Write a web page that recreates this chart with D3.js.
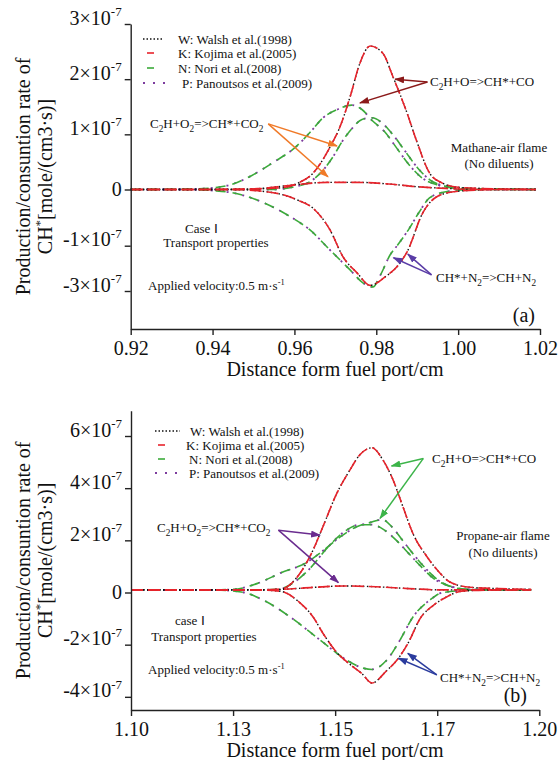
<!DOCTYPE html>
<html><head><meta charset="utf-8">
<script src="https://cdn.jsdelivr.net/npm/d3@7"></script>
<style>
html,body{margin:0;padding:0;background:#fff;}
svg{display:block;font-family:"Liberation Serif","Times New Roman",serif;}
svg text{font-family:"Liberation Serif","Times New Roman",serif;}
</style></head><body>
<svg id="chart" width="559" height="760"></svg>
<script>
/* CH* production / consumption rates, two flames (values in units of 1e-7 mole/(cm3·s)) */
var xTicksA = [0.92, 0.94, 0.96, 0.98, 1.00, 1.02];
var xLabelsA = ['0.92', '0.94', '0.96', '0.98', '1.00', '1.02'];
var yTicksA = [3, 2, 1, 0, -1, -3];
var xTicksB = [1.10, 1.125, 1.15, 1.175, 1.20];
var xLabelsB = ['1.10', '1.13', '1.15', '1.17', '1.20'];
var yTicksB = [6, 4, 2, 0, -2, -4];
var legendNames = ['W: Walsh et al.(1998)', 'K: Kojima et al.(2005)', 'N: Nori et al.(2008)', 'P: Panoutsos et al.(2009)'];

// (a) methane-air : [distance cm, rate]
var a_WK_CO = [[0.92,0],[0.94,0],[0.95,0.01],[0.9565,0.03],[0.961,0.12],[0.9646,0.3],[0.9687,0.77],[0.9711,1.13],[0.9736,1.68],[0.976,2.29],[0.9785,2.6],[0.9816,2.47],[0.9841,2.04],[0.9875,1.39],[0.990,0.85],[0.993,0.3],[0.996,0.12],[1.0,0.04],[1.01,0.01],[1.019,0]];
var a_WK_CO2 = [[0.92,0],[0.945,0],[0.952,0.02],[0.957,0.06],[0.962,0.1],[0.968,0.13],[0.975,0.13],[0.983,0.1],[0.99,0.05],[0.997,0.02],[1.005,0],[1.019,0]];
var a_WK_N2 = [[0.92,0],[0.945,0],[0.952,-0.03],[0.9565,-0.08],[0.9605,-0.18],[0.9645,-0.33],[0.9687,-0.72],[0.9719,-1.5],[0.9753,-2.2],[0.9785,-2.75],[0.982,-2.4],[0.9858,-1.76],[0.9875,-1.28],[0.9914,-0.41],[0.995,-0.12],[1.0,-0.03],[1.01,0],[1.019,0]];
var a_NP_CO = [[0.92,0],[0.935,0.01],[0.94,0.03],[0.945,0.1],[0.9495,0.25],[0.955,0.5],[0.96,0.75],[0.964,1.05],[0.967,1.3],[0.9705,1.45],[0.974,1.53],[0.9765,1.45],[0.979,1.25],[0.982,1.05],[0.985,0.75],[0.988,0.45],[0.991,0.22],[0.995,0.08],[1.0,0.02],[1.01,0.01],[1.019,0]];
var a_NP_CO2 = [[0.92,0],[0.955,0],[0.96,0.05],[0.964,0.15],[0.967,0.35],[0.9695,0.6],[0.9715,0.85],[0.974,1.1],[0.9765,1.27],[0.979,1.3],[0.9815,1.2],[0.984,1.0],[0.987,0.7],[0.99,0.4],[0.993,0.18],[0.997,0.06],[1.003,0.01],[1.019,0]];
var a_NP_N2 = [[0.92,0],[0.935,0],[0.94,-0.02],[0.9443,-0.05],[0.9523,-0.23],[0.9589,-0.48],[0.9638,-0.72],[0.9687,-1.19],[0.9736,-2.07],[0.9768,-2.65],[0.9792,-2.82],[0.981,-2.3],[0.9834,-1.4],[0.9853,-0.98],[0.988,-0.7],[0.9905,-0.4],[0.993,-0.15],[0.997,-0.04],[1.003,0],[1.019,0]];

// (b) propane-air
var b_WK_CO = [[1.10,0.1],[1.12,0.1],[1.13,0.1],[1.1365,0.12],[1.1414,0.74],[1.1446,1.63],[1.147,2.52],[1.1504,3.8],[1.1536,4.69],[1.156,5.27],[1.159,5.55],[1.1617,5.08],[1.1642,4.31],[1.1666,3.29],[1.169,2.28],[1.1725,1.37],[1.1757,0.74],[1.178,0.41],[1.183,0.2],[1.19,0.15],[1.198,0.12]];
var b_WK_CO2 = [[1.10,0.1],[1.13,0.1],[1.137,0.12],[1.145,0.2],[1.152,0.25],[1.16,0.22],[1.168,0.15],[1.176,0.1],[1.185,0.1],[1.198,0.1]];
var b_WK_N2 = [[1.10,0.1],[1.13,0.1],[1.1365,0.05],[1.1414,-0.4],[1.1446,-0.94],[1.147,-1.56],[1.1504,-2.3],[1.154,-2.8],[1.1565,-3.1],[1.159,-3.47],[1.1626,-3.0],[1.1651,-2.6],[1.168,-1.9],[1.1708,-1.0],[1.174,-0.5],[1.1775,-0.15],[1.181,0.05],[1.19,0.1],[1.198,0.1]];
var b_NP_CO = [[1.10,0.1],[1.12,0.1],[1.125,0.12],[1.131,0.35],[1.1365,0.74],[1.143,1.15],[1.147,1.6],[1.151,2.1],[1.155,2.5],[1.159,2.7],[1.1615,2.8],[1.164,2.5],[1.1665,2.0],[1.169,1.5],[1.172,0.95],[1.175,0.5],[1.178,0.25],[1.183,0.12],[1.19,0.1],[1.198,0.1]];
var b_NP_CO2 = [[1.10,0.1],[1.13,0.1],[1.136,0.12],[1.14,0.4],[1.144,0.95],[1.148,1.7],[1.152,2.3],[1.156,2.6],[1.159,2.6],[1.162,2.4],[1.165,2.0],[1.168,1.5],[1.171,1.0],[1.174,0.55],[1.177,0.3],[1.182,0.12],[1.19,0.1],[1.198,0.1]];
var b_NP_N2 = [[1.10,0.1],[1.12,0.1],[1.127,0.02],[1.1324,-0.29],[1.1389,-0.93],[1.1463,-1.82],[1.1528,-2.59],[1.1569,-2.9],[1.159,-2.95],[1.1626,-2.6],[1.1659,-1.82],[1.1691,-0.93],[1.1732,-0.29],[1.1764,0],[1.185,0.1],[1.198,0.1]];

// annotation anchors in data units: label side point, then arrow tips
var a_annCO = [[0.9925,1.95],[0.9846,2.0],[0.976,1.57]];
var a_annCO2 = [[0.9536,1.19],[0.9704,0.79],[0.9682,0.23]];
var a_annN2 = [[0.9935,-2.29],[0.9842,-1.53],[0.9877,-1.37]];
var b_annCO = [[1.1716,5.14],[1.1638,4.85],[1.161,2.84]];
var b_annCO2 = [[1.1361,2.39],[1.1463,2.2],[1.1508,0.38]];
var b_annN2 = [[1.1749,-3.16],[1.1655,-2.52],[1.1678,-2.33]];

var FONT = '"Liberation Serif","Times New Roman",serif';
var STY = [
  { c: '#111', dash: '1.5,2.5', w: 1.4 },   // W
  { c: '#e8232b', dash: '12,5', w: 1.6 },   // K
  { c: '#3bab3a', dash: '10,7', w: 1.6 },   // N
  { c: '#7d3c9e', dash: '2,6', w: 1.8 }     // P
];

var svg = d3.select('#chart').attr('font-family', FONT);
var defs = svg.append('defs');
function marker(id, col) {
  defs.append('marker').attr('id', id).attr('markerUnits', 'userSpaceOnUse').attr('markerWidth', 10).attr('markerHeight', 8)
    .attr('refX', 9).attr('refY', 3.5).attr('orient', 'auto')
    .append('path').attr('d', 'M0,0 L10,3.5 L0,7 Z').attr('fill', col);
}

// text with _x subscripts and ^{..} superscripts
function rich(t, s, size) {
  var parts = s.split(/(_\{[^}]*\}|\^\{[^}]*\}|_.|\^.)/), cur = 0;
  t.attr('font-family', FONT);
  parts.forEach(function (p) {
    if (!p) return;
    var off = 0, fs = size, txt = p;
    if (p[0] === '_') { off = size * 0.28; fs = size * 0.72; txt = p[1] === '{' ? p.slice(2, -1) : p.slice(1); }
    else if (p[0] === '^') { off = -size * 0.42; fs = size * 0.65; txt = p[1] === '{' ? p.slice(2, -1) : p.slice(1); }
    t.append('tspan').attr('dy', off - cur).attr('font-size', fs).text(txt);
    cur = off;
  });
  return t;
}

function panel(P) {
  var g = svg.append('g');
  var line = d3.line().x(function (d) { return P.x(d[0]); }).y(function (d) { return P.y(d[1]); }).curve(d3.curveMonotoneX);
  // N/P curves first, then W/K on top
  [[3, 2], [0, 1]].forEach(function (pair, gi) {
    var sets = gi === 0 ? P.np : P.wk;
    pair.forEach(function (si) {
      sets.forEach(function (data) {
        g.append('path').attr('d', line(data)).attr('fill', 'none').attr('stroke', STY[si].c)
          .attr('stroke-width', STY[si].w).attr('stroke-dasharray', STY[si].dash);
      });
    });
  });

  // axes
  var ax = g.append('g').attr('transform', 'translate(0,' + P.y.range()[0] + ')')
    .call(d3.axisBottom(P.x).tickValues(P.xt).tickFormat(function (d, i) { return P.xl[i]; })
      .tickSize(6).tickSizeOuter(0).tickPadding(6));
  var ay = g.append('g').attr('transform', 'translate(' + P.x.range()[0] + ',0)')
    .call(d3.axisLeft(P.y).tickValues(P.yt).tickSize(6).tickSizeOuter(0).tickPadding(3));
  [ax, ay].forEach(function (a) {
    a.attr('font-family', FONT).attr('font-size', 20);
    a.select('.domain').attr('stroke', '#222').attr('stroke-width', 1.4);
    a.selectAll('.tick line').attr('stroke', '#222').attr('stroke-width', 1.4);
    a.selectAll('text').attr('font-family', FONT).attr('font-size', 20).attr('fill', '#111');
  });
  ay.selectAll('.tick text').each(function (v) {
    var t = d3.select(this).text('');
    if (v === 0) t.text('0');
    else rich(t, (v < 0 ? '-' : '') + Math.abs(v) + '×10^{-7}', 20);
  });

  // axis titles
  var rg = P.y.range(), ym = (rg[0] + rg[rg.length - 1]) / 2;
  g.append('text').attr('x', 335).attr('y', rg[0] + 47).attr('text-anchor', 'middle').attr('font-size', 20)
    .attr('font-family', FONT).attr('fill', '#111').text('Distance form fuel port/cm');
  g.append('text').attr('transform', 'translate(30,' + ym + ') rotate(-90)').attr('text-anchor', 'middle').attr('font-size', 20)
    .attr('font-family', FONT).attr('fill', '#111').text('Production/consuntion rate of');
  rich(g.append('text').attr('transform', 'translate(52,' + ym + ') rotate(-90)').attr('text-anchor', 'middle').attr('font-size', 20).attr('fill', '#111'),
    'CH^*[mole/(cm3·s)]', 20);

  // legend
  P.leg.rows.forEach(function (ry, i) {
    var s = STY[i], l = P.leg.lines[i];
    g.append('line').attr('x1', l[0]).attr('x2', l[1]).attr('y1', ry).attr('y2', ry).attr('stroke', s.c)
      .attr('stroke-width', s.w).attr('stroke-dasharray', i === 0 ? '1.5,2' : (i === 3 ? '2,8' : null));
    g.append('text').attr('x', P.leg.tx[i]).attr('y', ry + 4.5).attr('font-size', 13).attr('font-family', FONT)
      .attr('fill', '#111').text(legendNames[i]);
  });

  // annotations
  P.ann.forEach(function (an, k) {
    var id = P.id + 'm' + k; marker(id, an.col);
    var o = an.pts[0];
    an.pts.slice(1).forEach(function (tp) {
      g.append('line').attr('x1', P.x(o[0])).attr('y1', P.y(o[1])).attr('x2', P.x(tp[0])).attr('y2', P.y(tp[1]))
        .attr('stroke', an.col).attr('stroke-width', 1.5).attr('marker-end', 'url(#' + id + ')');
    });
    rich(g.append('text').attr('x', an.tx).attr('y', an.ty).attr('font-size', 13).attr('fill', '#111'), an.label, 13);
  });
  P.notes.forEach(function (n) {
    rich(g.append('text').attr('x', n[0]).attr('y', n[1]).attr('text-anchor', n[3] || 'start').attr('font-size', n[4] || 13).attr('fill', '#111'), n[2], n[4] || 13);
  });
}

// scales (a): y axis is piecewise in the original figure
var xA = d3.scaleLinear().domain([0.92, 1.02]).range([130.7, 540]);
var yA = d3.scaleLinear().domain([-3, -1, 0, 3]).range([291, 245.7, 189.5, 24]);
yA.domain([yA.invert(329)].concat(yA.domain())).range([329].concat(yA.range()));
var xB = d3.scaleLinear().domain([1.10, 1.20]).range([131, 539.3]);
var yB = d3.scaleLinear().domain([0, 6]).range([592.5, 436]);
yB.domain([yB.invert(710), yB.invert(410.7)]).range([710, 410.7]);

panel({
  id: 'a', x: xA, y: yA, xt: xTicksA, xl: xLabelsA, yt: yTicksA,
  wk: [a_WK_CO, a_WK_CO2, a_WK_N2], np: [a_NP_CO, a_NP_CO2, a_NP_N2],
  leg: { rows: [39, 53, 68, 83], lines: [[143, 162], [147, 154], [147, 154], [143, 170]], tx: [178, 178, 178, 182] },
  ann: [
    { label: 'C_2H+O=>CH*+CO', col: '#8b1a1a', pts: a_annCO, tx: 430, ty: 86 },
    { label: 'C_2H+O_2=>CH*+CO_2', col: '#f07a28', pts: a_annCO2, tx: 150, ty: 128 },
    { label: 'CH*+N_2=>CH+N_2', col: '#5a3ca6', pts: a_annN2, tx: 436, ty: 282 }
  ],
  notes: [[499, 152, 'Mathane-air flame', 'middle'], [499, 168, '(No diluents)', 'middle'],
    [185, 233, 'Case  Ⅰ'], [216, 247, 'Transport properties', 'middle'],
    [148, 290, 'Applied velocity:0.5 m·s^{-1}'], [535, 322, '(a)', 'end', 20]]
});
panel({
  id: 'b', x: xB, y: yB, xt: xTicksB, xl: xLabelsB, yt: yTicksB,
  wk: [b_WK_CO, b_WK_CO2, b_WK_N2], np: [b_NP_CO, b_NP_CO2, b_NP_N2],
  leg: { rows: [431, 445, 459, 473], lines: [[155, 180], [158, 165], [158, 165], [155, 182]], tx: [190, 186, 189, 189] },
  ann: [
    { label: 'C_2H+O=>CH*+CO', col: '#3cb449', pts: b_annCO, tx: 432, ty: 463 },
    { label: 'C_2H+O_2=>CH*+CO_2', col: '#6a2c8f', pts: b_annCO2, tx: 157, ty: 532 },
    { label: 'CH*+N_2=>CH+N_2', col: '#2b3c9e', pts: b_annN2, tx: 440, ty: 682 }
  ],
  notes: [[503, 540, 'Propane-air flame', 'middle'], [503, 557, '(No diluents)', 'middle'],
    [175, 625, 'case  Ⅰ'], [204, 641, 'Transport properties', 'middle'],
    [148, 674, 'Applied velocity:0.5 m·s^{-1}'], [527, 702, '(b)', 'end', 20]]
});
</script></body></html>
